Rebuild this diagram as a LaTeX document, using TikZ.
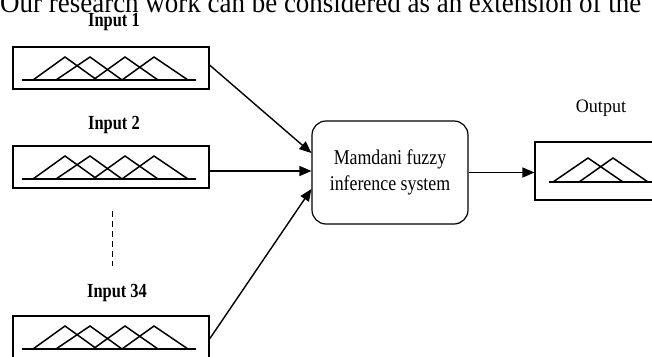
\documentclass[tikz,border=0pt]{standalone}
\usepackage{fontspec}
\setmainfont{Liberation Serif}
\newfontfamily\labfont[FakeStretch=0.82]{Liberation Serif}
\newfontfamily\fisfont[FakeStretch=0.85]{Liberation Serif}
\newfontfamily\outfont[FakeStretch=0.95]{Liberation Serif}
\newfontfamily\capfont[FakeStretch=0.93]{Liberation Serif}
\usetikzlibrary{arrows.meta,calc}
\begin{document}
\begin{tikzpicture}[x=1pt,y=-1pt,
  mfbox/.style={draw,line width=1.1pt,minimum width=196pt,minimum height=42pt,inner sep=0pt},
  fis/.style={draw,line width=1.2pt,rounded corners=14pt,minimum width=156pt,minimum height=103pt,align=center,font=\fisfont\fontsize{21}{26}\selectfont},
  lab/.style={font=\labfont\bfseries\fontsize{20}{21}\selectfont,inner sep=0pt},
  mf/.style={line width=1.5pt,line join=miter},
  conn/.style={line width=1.4pt,-{Triangle[length=12pt,width=10pt]}}]
\useasboundingbox (0,0) rectangle (652,356);
\clip (0,0) rectangle (652,356);
% cropped caption text at top
\node[anchor=base west,inner sep=0pt,font=\capfont\fontsize{29}{30}\selectfont] (cap) at (0,12.5) {Our research work can be considered as an extension of the};
% input boxes
\node[mfbox] (b1) at (111,68) {};
\node[mfbox] (b2) at (111,167) {};
\node[mfbox] (b34) at (111,337) {};
\node[lab,anchor=base] (l1) at (114,26) {Input 1};
\node[lab,anchor=base] (l2) at (114,129) {Input 2};
\node[lab,anchor=base] (l34) at (117,297) {Input 34};
\coordinate (d1) at (112,211);
\coordinate (d2) at (112,266);
\draw[line width=0.8pt,dash pattern=on 6pt off 4pt] (d1) -- (d2);
% membership functions
\foreach \dy in {0,99,269}{
  \begin{scope}[yshift=-\dy pt]
    \draw[line width=1.1pt] (22,80) -- (196,80);
    \draw[mf] (33,80) -- (65,57) -- (97,80);
    \draw[mf] (56,80) -- (90,57) -- (122,80);
    \draw[mf] (93,80) -- (125,57) -- (158,80);
    \draw[mf] (122,80) -- (154,57) -- (188,80);
  \end{scope}
}
% FIS
\node[fis] (fis) at (390,172.5) {Mamdani fuzzy\\inference system};
% output
\node[draw,line width=1.1pt,minimum width=130pt,minimum height=58pt,inner sep=0pt] (out) at (600,171) {};
\node[font=\outfont\fontsize{19}{20}\selectfont,inner sep=0pt,anchor=base] (lo) at (601,112) {Output};
\draw[line width=1.1pt] (549,182) -- (665,182);
\draw[mf] (553,182) -- (588,158) -- (623,182);
\draw[mf] (579,182) -- (613,158) -- (648,182);
% connectors
\draw[conn] ($(b1.east)+(0,-3)$) -- ($(fis.west)+(0,-19.5)$);
\draw[conn] ($(b2.east)+(0,4)$) -- ($(fis.west)+(0,-1.5)$);
\draw[conn] ($(b34.east)+(0,2)$) -- ($(fis.west)+(0,16.5)$);
\draw[conn] (fis.east) -- (fis.east -| out.west);
\end{tikzpicture}
\end{document}
